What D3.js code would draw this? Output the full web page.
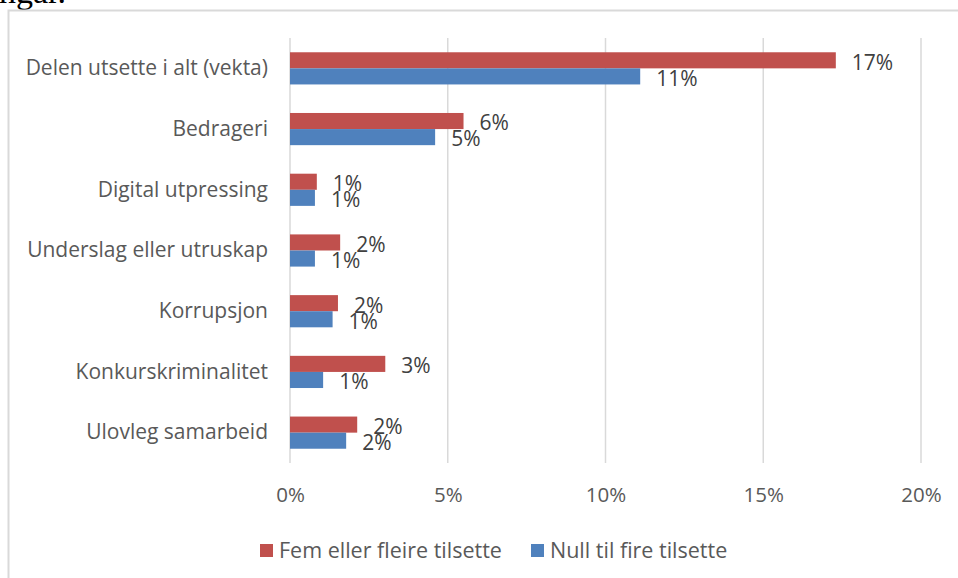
<!DOCTYPE html>
<html>
<head>
<meta charset="utf-8">
<script src="https://cdn.jsdelivr.net/npm/d3@7"></script>
<style>
  html, body { margin: 0; padding: 0; background: #fff; }
  svg { display: block; }
</style>
</head>
<body>
<div id="vis"></div>
<script>
// Horizontal grouped bars: share exposed per crime type, by company size
const categories = [
  "Delen utsette i alt (vekta)",
  "Bedrageri",
  "Digital utpressing",
  "Underslag eller utruskap",
  "Korrupsjon",
  "Konkurskriminalitet",
  "Ulovleg samarbeid"
];
const seriesNames = ["Fem eller fleire tilsette", "Null til fire tilsette"];
const femEllerFleire = [0.173, 0.055, 0.0085, 0.0159, 0.0152, 0.0302, 0.0213];
const nullTilFire = [0.111, 0.046, 0.0079, 0.0079, 0.0135, 0.0105, 0.0178];
const xTicks = [0, 0.05, 0.10, 0.15, 0.20];

const width = 958;
const height = 578;
const margin = { top: 38, right: 37, bottom: 115, left: 290 };
const colors = ["#C0504D", "#4F81BD"];
const font = "'Open Sans', 'Noto Sans', sans-serif";

const svg = d3.select("#vis")
  .append("svg")
  .attr("width", width)
  .attr("height", height);

// cut-off text from the page above the chart
svg.append("text")
  .attr("x", -1)
  .attr("y", 3)
  .attr("fill", "#000")
  .style("font-family", "'Liberation Serif', 'DejaVu Serif', serif")
  .style("font-size", "34px")
  .text("ngar.");

// chart frame (only top and left edges visible)
svg.append("path")
  .attr("d", `M8.5,${height} V10.5 H${width}`)
  .attr("fill", "none")
  .attr("stroke", "#D9D9D9")
  .attr("stroke-width", 2);

const x = d3.scaleLinear()
  .domain([0, 0.2])
  .range([margin.left, width - margin.right]);

const y = d3.scaleBand()
  .domain(categories)
  .range([margin.top, height - margin.bottom])
  .paddingInner(0.47)
  .paddingOuter(0.235);

const ySub = d3.scaleBand()
  .domain(seriesNames)
  .range([0, y.bandwidth()]);

// vertical grid lines
svg.append("g")
  .selectAll("line")
  .data(xTicks)
  .join("line")
  .attr("x1", d => x(d))
  .attr("x2", d => x(d))
  .attr("y1", margin.top)
  .attr("y2", height - margin.bottom)
  .attr("stroke", "#D9D9D9")
  .attr("stroke-width", 1.5);

// x tick labels
svg.append("g")
  .attr("transform", `translate(0,${height - margin.bottom + 21})`)
  .call(d3.axisBottom(x).tickValues(xTicks).tickFormat(d3.format(".0%")).tickSize(0))
  .call(g => g.select(".domain").remove())
  .selectAll("text")
  .attr("fill", "#595959")
  .style("font-family", font)
  .style("font-size", "20.5px");

// category labels
svg.append("g")
  .attr("transform", `translate(${margin.left},0)`)
  .call(d3.axisLeft(y).tickSize(0).tickPadding(22))
  .call(g => g.select(".domain").remove())
  .selectAll("text")
  .attr("fill", "#595959")
  .style("font-family", font)
  .style("font-size", "21px");

const rows = categories.map((c, i) => ({
  category: c,
  values: [
    { series: seriesNames[0], value: femEllerFleire[i], color: colors[0] },
    { series: seriesNames[1], value: nullTilFire[i], color: colors[1] }
  ]
}));

const groups = svg.append("g")
  .selectAll("g")
  .data(rows)
  .join("g")
  .attr("transform", d => `translate(0,${y(d.category)})`);

groups.selectAll("rect")
  .data(d => d.values)
  .join("rect")
  .attr("x", x(0))
  .attr("y", d => ySub(d.series))
  .attr("width", d => x(d.value) - x(0))
  .attr("height", ySub.bandwidth())
  .attr("fill", d => d.color);

// data labels
groups.selectAll("text")
  .data(d => d.values)
  .join("text")
  .attr("x", d => x(d.value) + 16)
  .attr("y", d => ySub(d.series) + ySub.bandwidth() / 2 + 2)
  .attr("dy", "0.35em")
  .attr("fill", "#404040")
  .style("font-family", font)
  .style("font-size", "21px")
  .text(d => d3.format(".0%")(d.value));

// legend
const legendItems = [
  { name: seriesNames[0], color: colors[0], x: 260 },
  { name: seriesNames[1], color: colors[1], x: 531 }
];
const legend = svg.append("g")
  .selectAll("g")
  .data(legendItems)
  .join("g")
  .attr("transform", d => `translate(${d.x},544)`);

legend.append("rect")
  .attr("width", 13)
  .attr("height", 13)
  .attr("fill", d => d.color);

legend.append("text")
  .attr("x", 19)
  .attr("y", 14)
  .attr("fill", "#595959")
  .style("font-family", font)
  .style("font-size", "21.5px")
  .text(d => d.name);
</script>
</body>
</html>
